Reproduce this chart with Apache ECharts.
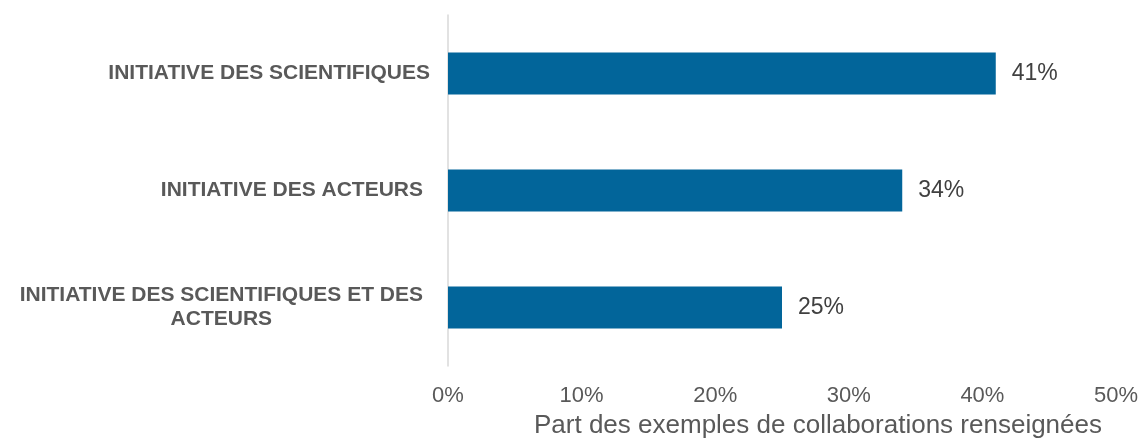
<!DOCTYPE html>
<html>
<head>
<meta charset="utf-8">
<script src="https://cdn.jsdelivr.net/npm/echarts@6/dist/echarts.min.js"></script>
<style>
  html, body { margin: 0; padding: 0; background: #fff; }
  #chart { width: 1141px; height: 439px; }
</style>
</head>
<body>
<div id="chart"></div>
<script>
  const categories = [
    "INITIATIVE DES SCIENTIFIQUES",
    "INITIATIVE DES ACTEURS",
    "INITIATIVE DES SCIENTIFIQUES ET DES ACTEURS",
  ];
  const values = [41, 34, 25];
  const xTicks = [0, 10, 20, 30, 40, 50];
  const axisTitle = "Part des exemples de collaborations renseignées";

  const myChart = echarts.init(document.getElementById("chart"));

  // retour à la ligne du dernier libellé, lignes centrées
  const wrapLabel = (text, idx) => {
    const key = idx === 0 ? "a" : "b";
    if (text.length > 30) {
      const cut = text.lastIndexOf(" ", 35);
      return "{" + key + "|" + text.slice(0, cut) + "}\n{" + key + "|" + text.slice(cut + 1) + "}";
    }
    return "{" + key + "|" + text + "}";
  };

  const labelFont = {
    fontFamily: "Liberation Sans, Arial",
    fontWeight: "bold",
    fontSize: 21,
    color: "#595959",
    align: "center",
    lineHeight: 24,
  };

  const option = {
    animation: false,
    grid: { left: 448, right: 25, top: 15, bottom: 73, outerBoundsMode: "none" },
    xAxis: {
      type: "value",
      min: xTicks[0],
      max: xTicks[xTicks.length - 1],
      interval: 10,
      axisLine: { show: false },
      axisTick: { show: false },
      splitLine: { show: false },
      axisLabel: {
        formatter: "{value}%",
        fontFamily: "Liberation Sans, Arial",
        fontSize: 22,
        color: "#595959",
        margin: 19,
      },
      name: axisTitle,
      nameLocation: "middle",
      nameGap: 47,
      nameTextStyle: {
        fontFamily: "Liberation Sans, Arial",
        fontSize: 26,
        color: "#595959",
        padding: [0, 0, 0, 72],
      },
    },
    yAxis: {
      type: "category",
      data: categories,
      inverse: true,
      axisLine: { show: true, lineStyle: { color: "#d9d9d9", width: 1.5 } },
      axisTick: { show: false },
      axisLabel: {
        formatter: wrapLabel,
        margin: 18,
        rich: {
          a: labelFont,
          b: Object.assign({}, labelFont, { padding: [0, 7, 0, 0] }),
        },
      },
    },
    series: [
      {
        type: "bar",
        data: values,
        barWidth: 42,
        itemStyle: { color: "#02659a" },
        label: {
          show: true,
          position: "right",
          distance: 16,
          formatter: "{c}%",
          fontFamily: "Liberation Sans, Arial",
          fontSize: 23,
          color: "#404040",
        },
      },
    ],
  };
  myChart.setOption(option);
</script>
</body>
</html>
